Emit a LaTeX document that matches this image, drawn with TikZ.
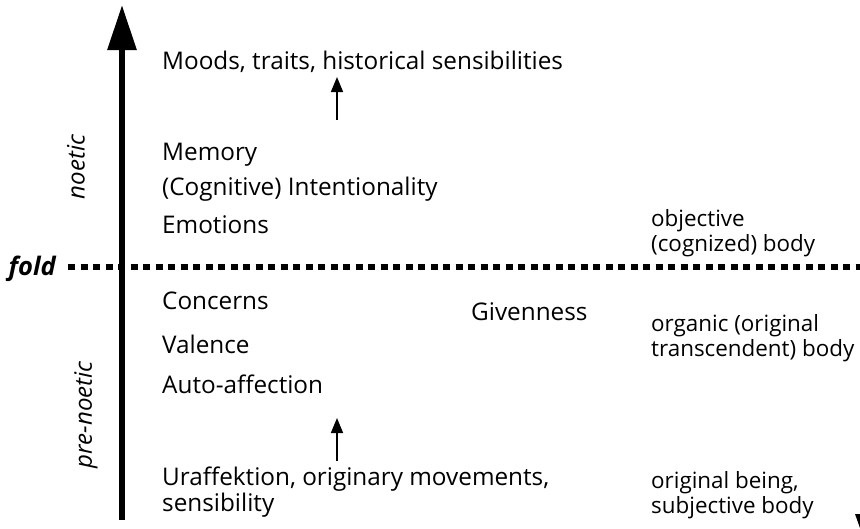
\documentclass[tikz,border=0pt]{standalone}
\usepackage{fontspec}
\setmainfont{Open Sans}
\usetikzlibrary{arrows.meta}
\begin{document}
\begin{tikzpicture}[x=1pt,y=-1pt,
  lbl/.style={anchor=base west,inner sep=0pt,font=\fontsize{24.3}{26}\selectfont},
  two/.style={lbl,align=left},
  rlbl/.style={anchor=base west,inner sep=0pt,align=left,font=\fontsize{22.4}{24.5}\selectfont},
  side/.style={inner sep=0pt,font=\fontsize{24}{24}\selectfont\itshape,rotate=90},
  smallarrow/.style={line width=1.6pt,-{Triangle[length=15pt,width=12pt]}},
  mainarrow/.style={line width=6pt,-{Triangle[length=45pt,width=28pt]}},
  foldline/.style={line width=5.5pt,dash pattern=on 7pt off 5.5pt}]
\useasboundingbox (0,0) rectangle (860,528);
% main axis
\coordinate (axb) at (122,520);
\coordinate (axt) at (122,5);
\draw[mainarrow] (axb) -- (axt);
% fold
\coordinate (fl) at (68,267);
\coordinate (fr) at (862,267);
\draw[foldline] (fl) -- (fr);
\node[anchor=base east,inner sep=0pt,font=\fontsize{25.5}{25}\selectfont\bfseries\itshape] (fold) at (56,275) {fold};
\node[side] (noetic) at (76,167) {noetic};
\node[side] (prenoetic) at (86,415) {pre-noetic};
% left column
\node[lbl] (moods) at (162,69) {Moods, traits, historical sensibilities};
\node[lbl] (memory) at (162,160) {Memory};
\node[lbl] (cogn) at (162,195) {(Cognitive) Intentionality};
\node[lbl] (emot) at (162,233) {Emotions};
\node[lbl] (conc) at (162,309) {Concerns};
\node[lbl] (val) at (162,353) {Valence};
\node[lbl] (auto) at (162,393) {Auto-affection};
\node[two] (ura) at (162,511) {Uraffektion, originary movements,\\sensibility};
\node[lbl] (given) at (471,320) {Givenness};
% right column
\node[rlbl] (obj) at (651,251) {objective\\(cognized) body};
\node[rlbl] (org) at (651,356) {organic (original\\transcendent) body};
\node[rlbl] (orig) at (651,513) {original being,\\subjective body};
% small arrows
\coordinate (a1b) at (337,120);
\coordinate (a1t) at (337,77);
\draw[smallarrow] (a1b) -- (a1t);
\coordinate (a2b) at (337,461);
\coordinate (a2t) at (337,418);
\draw[smallarrow] (a2b) -- (a2t);
% clipped mark at the corner
\begin{scope}
\clip (0,0) rectangle (860,528);
\fill (855,514) -- (865,514) -- (860,528) -- cycle;
\end{scope}
\end{tikzpicture}
\end{document}
